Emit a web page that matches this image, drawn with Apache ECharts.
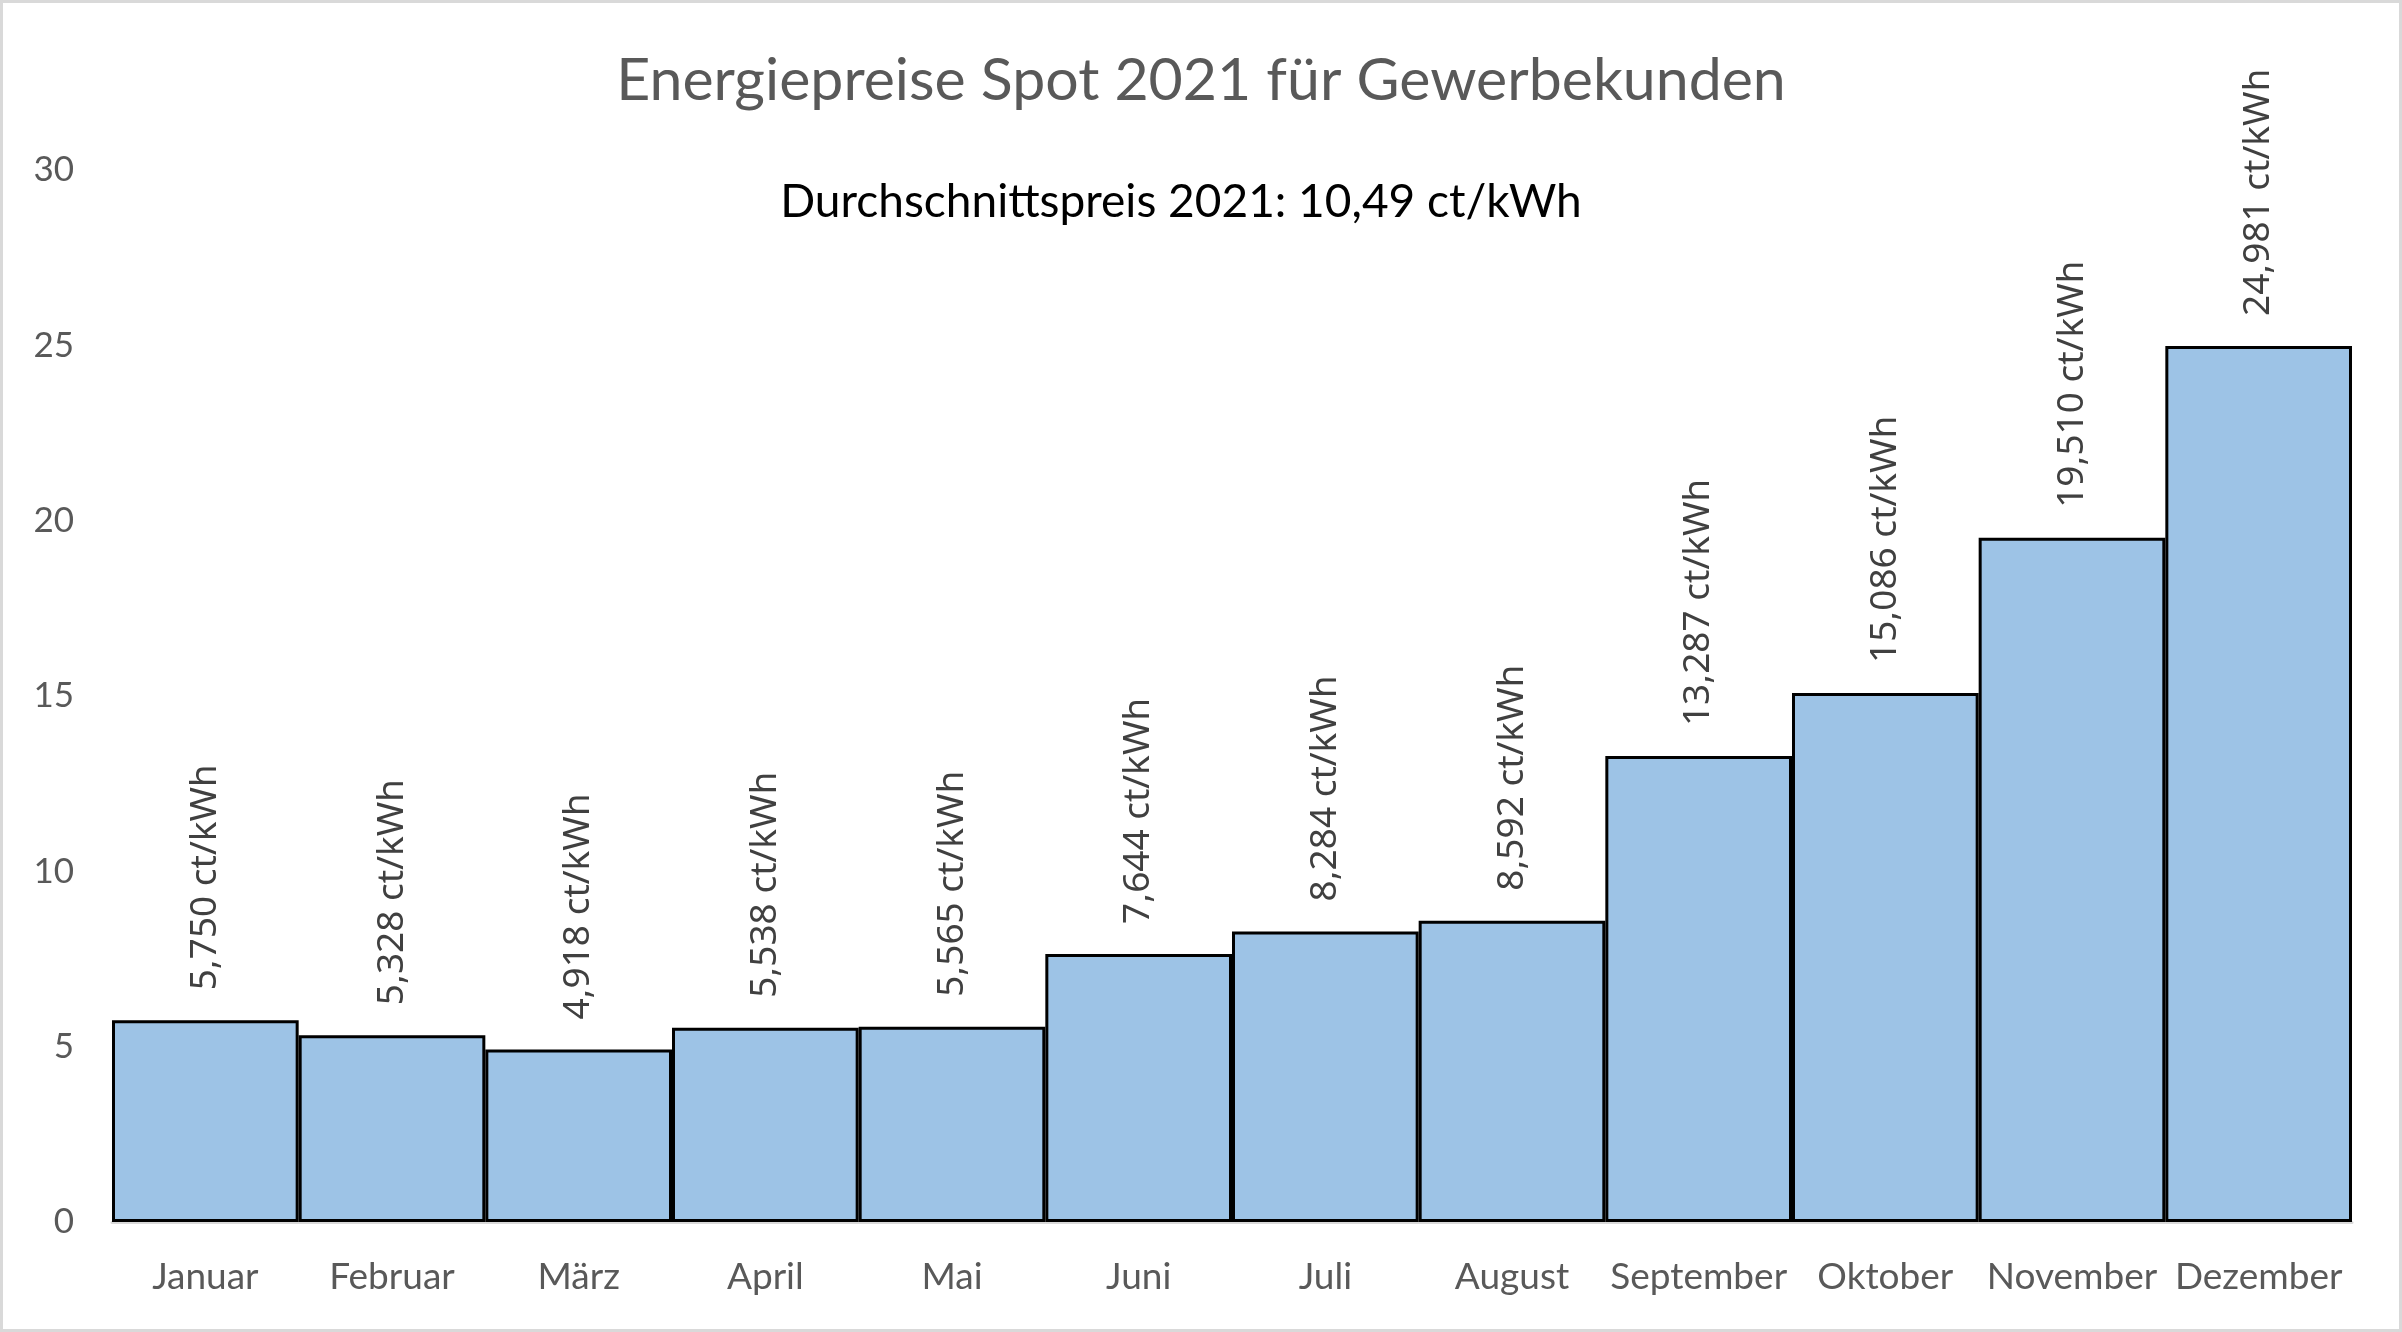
<!DOCTYPE html>
<html>
<head>
<meta charset="utf-8">
<title>Energiepreise Spot 2021</title>
<script src="https://cdn.jsdelivr.net/npm/echarts@6/dist/echarts.min.js"></script>
<style>
    html, body { margin: 0; padding: 0; background: #ffffff; }
    #chart {
        width: 2402px;
        height: 1332px;
        box-sizing: border-box;
        border: 3px solid #d9d9d9;
    }
</style>
</head>
<body>
<div id="chart"></div>
<script>
// Monthly spot prices 2021, ct/kWh
const months = ['Januar', 'Februar', 'März', 'April', 'Mai', 'Juni', 'Juli',
    'August', 'September', 'Oktober', 'November', 'Dezember'];
const prices = [5.750, 5.328, 4.918, 5.538, 5.565, 7.644, 8.284, 8.592,
    13.287, 15.086, 19.510, 24.981];
const yTicks = [0, 5, 10, 15, 20, 25, 30];

const titleText = 'Energiepreise Spot 2021 für Gewerbekunden';
const averageText = 'Durchschnittspreis 2021: 10,49 ct/kWh';

function formatPrice(v) {
    return v.toFixed(3).replace('.', ',') + ' ct/kWh';
}

document.addEventListener('DOMContentLoaded', function() {
    const chart = echarts.init(document.getElementById('chart'));

    chart.setOption({
        animation: false,
        backgroundColor: '#ffffff',
        title: [
            {
                text: titleText,
                left: 'center',
                top: 43,
                textStyle: {
                    fontFamily: 'Lato',
                    fontSize: 59,
                    fontWeight: 'normal',
                    color: '#595959'
                }
            },
            {
                text: averageText,
                left: 1173,
                top: 171,
                textAlign: 'center',
                textStyle: {
                    fontFamily: 'Lato',
                    fontSize: 46,
                    fontWeight: 'normal',
                    color: '#000000'
                }
            }
        ],
        grid: {
            left: 109,
            right: 47,
            top: 167,
            bottom: 107,
            containLabel: false
        },
        xAxis: {
            type: 'category',
            data: months,
            axisTick: { show: false },
            axisLine: { lineStyle: { color: '#d9d9d9', width: 3 } },
            axisLabel: {
                interval: 0,
                margin: 37,
                fontFamily: 'Lato',
                fontSize: 37,
                color: '#595959'
            }
        },
        yAxis: {
            type: 'value',
            min: yTicks[0],
            max: yTicks[yTicks.length - 1],
            interval: 5,
            splitLine: { show: false },
            axisLine: { show: false },
            axisTick: { show: false },
            axisLabel: {
                margin: 38,
                fontFamily: 'Lato',
                fontSize: 35,
                color: '#595959'
            }
        },
        series: [{
            type: 'bar',
            data: prices,
            barCategoryGap: '0%',
            itemStyle: {
                color: '#9dc3e6',
                borderColor: '#000000',
                borderWidth: 3
            },
            label: {
                show: true,
                position: 'top',
                rotate: 90,
                align: 'left',
                verticalAlign: 'middle',
                distance: 30,
                fontFamily: 'Noto Sans',
                fontSize: 37,
                color: '#404040',
                formatter: function(p) { return formatPrice(p.value); }
            }
        }]
    });
});
</script>
</body>
</html>
